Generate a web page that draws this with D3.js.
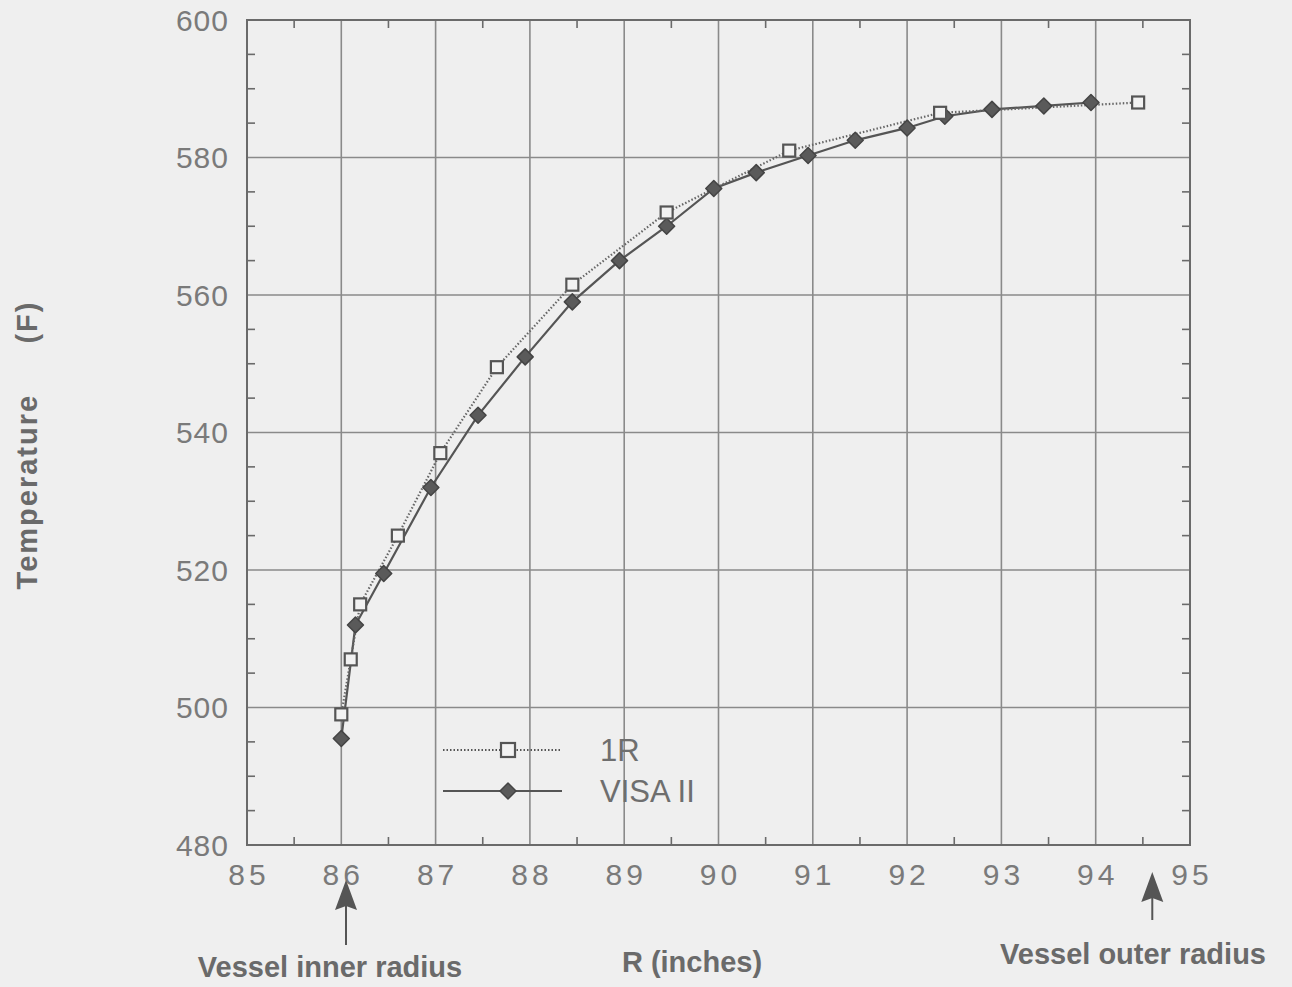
<!DOCTYPE html>
<html>
<head>
<meta charset="utf-8">
<script src="https://cdn.jsdelivr.net/npm/d3@7"></script>
<style>
  body { margin: 0; background: #efefef; }
  svg { display: block; font-family: "Liberation Sans", Arial, sans-serif; }
  .tick-label { fill: #7a7a7a; font-size: 30px; }
  .legend-label { fill: #6e6e6e; font-size: 31px; }
  .title { fill: #6a6a6a; font-size: 29px; font-weight: bold; white-space: pre; }
  .grid line { stroke: #8a8a8a; stroke-width: 1.6; }
  .frame { fill: none; stroke: #6a6a6a; stroke-width: 2; }
</style>
</head>
<body>
<svg id="chart" width="1292" height="987"></svg>
<script>
"use strict";

const xTicks = [85, 86, 87, 88, 89, 90, 91, 92, 93, 94, 95];
const yTicks = [480, 500, 520, 540, 560, 580, 600];

// 1R (open squares, dotted)
const r1X = [86.0, 86.1, 86.2, 86.6, 87.05, 87.65, 88.45, 89.45, 90.75, 92.35, 94.45];
const r1T = [499, 507, 515, 525, 537, 549.5, 561.5, 572, 581, 586.5, 588];

// VISA II (filled diamonds, solid)
const visaX = [86.0, 86.15, 86.45, 86.95, 87.45, 87.95, 88.45, 88.95, 89.45, 89.95,
               90.4, 90.95, 91.45, 92.0, 92.4, 92.9, 93.45, 93.95];
const visaT = [495.5, 512, 519.5, 532, 542.5, 551, 559, 565, 570, 575.5,
               577.8, 580.3, 582.5, 584.3, 586, 587, 587.5, 588];

const margins = {top: 20, right: 102, bottom: 142, left: 247};
const svg = d3.select("#chart");
const width = +svg.attr("width") - margins.left - margins.right;
const height = +svg.attr("height") - margins.top - margins.bottom;

const g = svg.append("g")
             .attr("transform", `translate(${margins.left}, ${margins.top})`);

const xScale = d3.scaleLinear().domain([85, 95]).range([0, width]);
const yScale = d3.scaleLinear().domain([480, 600]).range([height, 0]);

// grid
g.append("g")
 .attr("class", "grid")
 .selectAll("line")
 .data(xTicks.slice(1, -1))
 .join("line")
 .attr("x1", x => xScale(x))
 .attr("x2", x => xScale(x))
 .attr("y1", 0)
 .attr("y2", height);

g.append("g")
 .attr("class", "grid")
 .selectAll("line")
 .data(yTicks.slice(1, -1))
 .join("line")
 .attr("x1", 0)
 .attr("x2", width)
 .attr("y1", y => yScale(y))
 .attr("y2", y => yScale(y));

// inward ticks on all four sides
const minorX = d3.range(85.5, 95, 1);
const minorY = d3.range(480, 600.1, 5).filter(v => v % 20 != 0);

const ticks = g.append("g").attr("stroke", "#6a6a6a").attr("stroke-width", 1.6);
[0, height].forEach(y0 => {
  const dir = y0 == 0 ? 1 : -1;
  ticks.selectAll(null)
       .data(minorX)
       .join("line")
       .attr("x1", x => xScale(x))
       .attr("x2", x => xScale(x))
       .attr("y1", y0)
       .attr("y2", y0 + dir * 8);
});
[0, width].forEach(x0 => {
  const dir = x0 == 0 ? 1 : -1;
  ticks.selectAll(null)
       .data(minorY)
       .join("line")
       .attr("x1", x0)
       .attr("x2", x0 + dir * 8)
       .attr("y1", y => yScale(y))
       .attr("y2", y => yScale(y));
});

g.append("rect")
 .attr("class", "frame")
 .attr("width", width)
 .attr("height", height);

// tick labels
g.append("g")
 .selectAll("text")
 .data(xTicks)
 .join("text")
 .attr("class", "tick-label")
 .attr("x", x => xScale(x) + 2)
 .attr("y", height + 40)
 .attr("text-anchor", "middle")
 .attr("letter-spacing", 4)
 .attr("font-size", 29)
 .text(d => d);

g.append("g")
 .selectAll("text")
 .data(yTicks)
 .join("text")
 .attr("class", "tick-label")
 .attr("x", -18)
 .attr("y", y => yScale(y))
 .attr("dy", "0.36em")
 .attr("text-anchor", "end")
 .attr("letter-spacing", 1)
 .text(d => d);

// series
const line = d3.line().x(d => xScale(d[0])).y(d => yScale(d[1]));
const r1 = r1X.map((x, i) => [x, r1T[i]]);
const visa = visaX.map((x, i) => [x, visaT[i]]);

g.append("path")
 .datum(visa)
 .attr("fill", "none")
 .attr("stroke", "#555")
 .attr("stroke-width", 2.2)
 .attr("d", line);

g.append("path")
 .datum(r1)
 .attr("fill", "none")
 .attr("stroke", "#666")
 .attr("stroke-width", 2.2)
 .attr("stroke-dasharray", "1.5,2")
 .attr("d", line);

const diamond = (sel, s) => sel.append("path")
  .attr("d", `M0,${-s}L${s},0L0,${s}L${-s},0Z`)
  .attr("fill", "#5a5a5a")
  .attr("stroke", "#444")
  .attr("stroke-width", 1.5)
  .attr("stroke-linejoin", "round");

const square = (sel, s) => sel.append("rect")
  .attr("x", -s).attr("y", -s)
  .attr("width", 2 * s).attr("height", 2 * s)
  .attr("fill", "#f2f2f2")
  .attr("stroke", "#555")
  .attr("stroke-width", 2.2);

g.selectAll("g.visa")
 .data(visa)
 .join("g")
 .attr("class", "visa")
 .attr("transform", d => `translate(${xScale(d[0])}, ${yScale(d[1])})`)
 .each(function () { diamond(d3.select(this), 8); });

g.selectAll("g.r1")
 .data(r1)
 .join("g")
 .attr("class", "r1")
 .attr("transform", d => `translate(${xScale(d[0])}, ${yScale(d[1])})`)
 .each(function () { square(d3.select(this), 6); });

// legend
const legend = svg.append("g");
const legendEntries = [
  {label: "1R", y: 750, dash: "1.5,2", marker: square, size: 7},
  {label: "VISA II", y: 791, dash: null, marker: diamond, size: 8},
];
legendEntries.forEach(e => {
  legend.append("line")
        .attr("x1", 443).attr("x2", 562)
        .attr("y1", e.y).attr("y2", e.y)
        .attr("stroke", "#555")
        .attr("stroke-width", 2.2)
        .attr("stroke-dasharray", e.dash);
  const m = legend.append("g").attr("transform", `translate(508, ${e.y})`);
  e.marker(m, e.size);
  legend.append("text")
        .attr("class", "legend-label")
        .attr("x", 600)
        .attr("y", e.y)
        .attr("dy", "0.36em")
        .text(e.label);
});

// axis titles
svg.append("text")
   .attr("class", "title")
   .attr("transform", "translate(37, 445) rotate(-90)")
   .attr("text-anchor", "middle")
   .attr("font-size", 25)
   .attr("letter-spacing", 2)
   .text("Temperature     (F)");

svg.append("text")
   .attr("class", "title")
   .attr("x", 692)
   .attr("y", 972)
   .attr("text-anchor", "middle")
   .text("R (inches)");

// vessel radius annotations
const annotations = [
  {label: "Vessel inner radius", x: 86.05, tx: 330, ty: 977, top: 880, bottom: 945},
  {label: "Vessel outer radius", x: 94.6, tx: 1133, ty: 964, top: 872, bottom: 920},
];
annotations.forEach(a => {
  const ax = margins.left + xScale(a.x);
  svg.append("line")
     .attr("x1", ax).attr("x2", ax)
     .attr("y1", a.top + 20).attr("y2", a.bottom)
     .attr("stroke", "#555")
     .attr("stroke-width", 2);
  svg.append("path")
     .attr("d", `M${ax},${a.top + 26}L${ax - 11},${a.top + 30}L${ax},${a.top}L${ax + 11},${a.top + 30}Z`)
     .attr("fill", "#555");
  svg.append("text")
     .attr("class", "title")
     .attr("x", a.tx)
     .attr("y", a.ty)
     .attr("text-anchor", "middle")
     .text(a.label);
});
</script>
</body>
</html>
